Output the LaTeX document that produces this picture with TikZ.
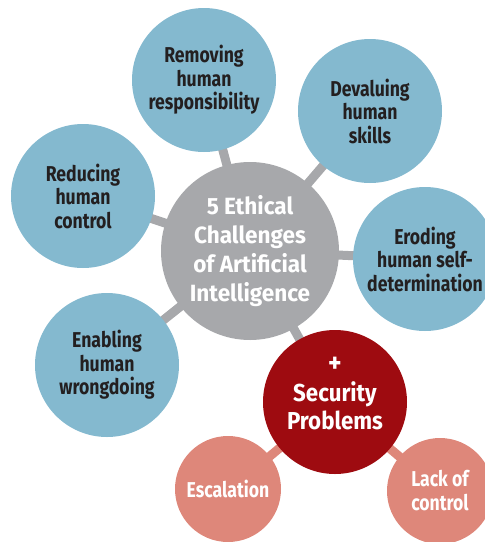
\documentclass[tikz,border=0pt]{standalone}
\usepackage{fontspec}
\setmainfont[FakeStretch=0.82]{Fira Sans}
\newfontfamily\cenfont[FakeStretch=0.96]{Fira Sans}
\newfontfamily\secfont[FakeStretch=0.91]{Fira Sans}
\definecolor{cblue}{HTML}{84B9CF}
\definecolor{cgray}{HTML}{A7A8AB}
\definecolor{cred}{HTML}{9E0B10}
\definecolor{csalmon}{HTML}{DE877A}
\definecolor{ctext}{HTML}{231F20}
\begin{document}
\begin{tikzpicture}[x=1pt,y=-1pt,
  bubble/.style={circle,inner sep=0pt,align=center,font=\bfseries\fontsize{21.5}{23.5}\selectfont},
  bluebub/.style={bubble,fill=cblue,text=ctext,minimum size=144pt},
  centerbub/.style={bubble,fill=cgray,text=white,minimum size=178pt,font=\cenfont\bfseries\fontsize{23.5}{29}\selectfont},
  redbub/.style={bubble,fill=cred,minimum size=144pt},
  redtext/.style={inner sep=0pt,align=center,text=white,font=\secfont\bfseries\fontsize{24.5}{28.5}\selectfont},
  salbub/.style={bubble,fill=csalmon,text=white,minimum size=106pt,font=\bfseries\fontsize{21.5}{24}\selectfont},
  glink/.style={draw=cgray,line width=9pt},
  slink/.style={draw=csalmon,line width=9pt}]
\useasboundingbox (0,0) rectangle (485,542);
\clip (0,0) rectangle (485,542);
\coordinate (pC) at (250,251);
\coordinate (pRem) at (204,80);
\coordinate (pDev) at (370,111);
\coordinate (pRed) at (83,196);
\coordinate (pEro) at (425,259);
\coordinate (pEna) at (107,365);
\coordinate (pSec) at (335,402);
\coordinate (pEsc) at (228,491);
\coordinate (pLac) at (440,491);
% connectors
\path[glink] (pC) -- (pRem);
\path[glink] (pC) -- (pDev);
\path[glink] (pC) -- (pRed);
\path[glink] (pC) -- (pEro);
\path[glink] (pC) -- (pEna);
\path[glink] (pC) -- (pSec);
\path[slink] (pSec) -- (pEsc);
\path[slink] (pSec) -- (pLac);
% bubbles
\node[bluebub] (rem) at (pRem) {Removing\\human\\responsibility};
\node[bluebub] (dev) at (pDev) {Devaluing\\human\\skills};
\node[bluebub] (red) at (pRed) {Reducing\\human\\control};
\node[bluebub] (ero) at (pEro) {Eroding\\human self-\\determination};
\node[bluebub] (ena) at (pEna) {Enabling\\human\\wrongdoing};
\node[centerbub] (cen) at (pC) {5 Ethical\\Challenges\\of Artificial\\Intelligence};
\node[redbub] (sec) at (pSec) {};
\node[redtext] (sectext) at ([yshift=8pt]sec.center) {{\fontsize{28}{28}\selectfont +}\\Security\\Problems};
\node[salbub] (esc) at ([yshift=2pt]pEsc) {Escalation};
\node[salbub] (lac) at (pLac) {Lack of\\control};
\end{tikzpicture}
\end{document}
